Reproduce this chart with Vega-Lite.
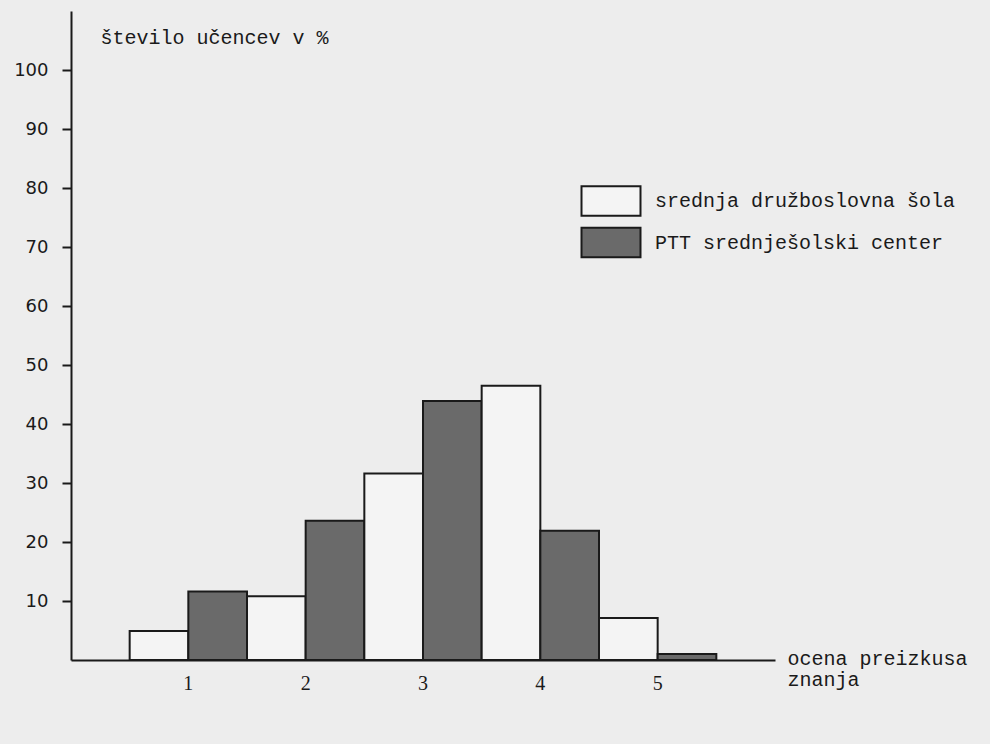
{
  "$schema": "https://vega.github.io/schema/vega-lite/v6.json",
  "width": 704,
  "height": 649,
  "autosize": "none",
  "padding": {"left": 71, "top": 11, "right": 215, "bottom": 84},
  "background": "#ededed",
  "config": {"view": {"stroke": null}},
  "data": {
    "values": [
      {"ocena": "1", "sola": "srednja družboslovna šola", "odstotek": 4.9},
      {"ocena": "1", "sola": "PTT srednješolski center", "odstotek": 11.6},
      {"ocena": "2", "sola": "srednja družboslovna šola", "odstotek": 10.8},
      {"ocena": "2", "sola": "PTT srednješolski center", "odstotek": 23.6},
      {"ocena": "3", "sola": "srednja družboslovna šola", "odstotek": 31.6},
      {"ocena": "3", "sola": "PTT srednješolski center", "odstotek": 43.9},
      {"ocena": "4", "sola": "srednja družboslovna šola", "odstotek": 46.5},
      {"ocena": "4", "sola": "PTT srednješolski center", "odstotek": 21.9},
      {"ocena": "5", "sola": "srednja družboslovna šola", "odstotek": 7.1},
      {"ocena": "5", "sola": "PTT srednješolski center", "odstotek": 1.0}
    ]
  },
  "mark": {"type": "bar", "stroke": "#1a1a1a", "strokeWidth": 2, "strokeJoin": "miter"},
  "encoding": {
    "x": {
      "field": "ocena",
      "type": "ordinal",
      "sort": ["1", "2", "3", "4", "5"],
      "scale": {"paddingInner": 0, "paddingOuter": 0.5},
      "axis": {
        "title": ["ocena preizkusa", "znanja"],
        "labelAngle": 0,
        "ticks": false,
        "tickSize": 0,
        "domainColor": "#1a1a1a",
        "domainWidth": 2,
        "labelFont": "Liberation Serif",
        "labelFontSize": 20,
        "labelColor": "#1a1a1a",
        "labelBaseline": "middle",
        "labelPadding": 23,
        "titleX": 716,
        "titleY": 4,
        "titleAlign": "left",
        "titleAnchor": null,
        "titleBaseline": "alphabetic",
        "titleFont": "Liberation Mono",
        "titleFontSize": 20,
        "titleFontWeight": "normal",
        "titleLineHeight": 21,
        "titleColor": "#1a1a1a"
      }
    },
    "xOffset": {
      "field": "sola",
      "type": "nominal",
      "sort": ["srednja družboslovna šola", "PTT srednješolski center"],
      "scale": {"paddingInner": 0, "paddingOuter": 0}
    },
    "y": {
      "field": "odstotek",
      "type": "quantitative",
      "scale": {"domain": [0, 110], "nice": false},
      "axis": {
        "values": [10, 20, 30, 40, 50, 60, 70, 80, 90, 100],
        "grid": false,
        "tickSize": 9,
        "tickWidth": 2,
        "tickColor": "#1a1a1a",
        "domainColor": "#1a1a1a",
        "domainWidth": 2,
        "labelFont": "DejaVu Sans",
        "labelFontSize": 18,
        "labelColor": "#1a1a1a",
        "labelPadding": 14,
        "title": "število učencev v %",
        "titleAngle": 0,
        "titleX": 29,
        "titleY": 32,
        "titleAlign": "left",
        "titleAnchor": null,
        "titleBaseline": "alphabetic",
        "titleFont": "Liberation Mono",
        "titleFontSize": 20,
        "titleFontWeight": "normal",
        "titleColor": "#1a1a1a"
      }
    },
    "color": {
      "field": "sola",
      "type": "nominal",
      "sort": ["srednja družboslovna šola", "PTT srednješolski center"],
      "scale": {"range": ["#f4f4f4", "#6a6a6a"]},
      "legend": {
        "orient": "none",
        "legendX": 524,
        "legendY": 174,
        "title": null,
        "symbolType": "M-2,-1H2V1H-2Z",
        "symbolSize": 870,
        "symbolStrokeWidth": 2,
        "symbolStrokeColor": "#1a1a1a",
        "symbolOpacity": 1,
        "labelFont": "Liberation Mono",
        "labelFontSize": 20,
        "labelColor": "#1a1a1a",
        "labelOffset": 28,
        "labelLimit": 400,
        "rowPadding": 3.5
      }
    }
  }
}
